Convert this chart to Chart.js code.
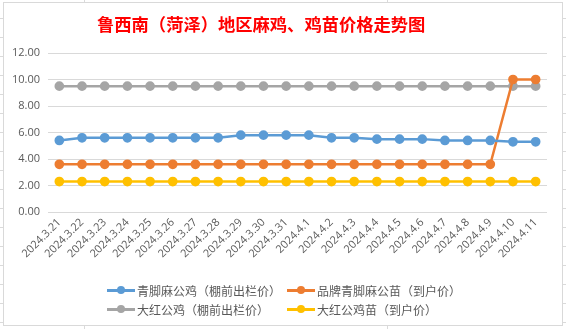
<!DOCTYPE html>
<html>
<head>
<meta charset="utf-8">
<script src="https://cdn.jsdelivr.net/npm/chart.js@4/dist/chart.umd.min.js"></script>
<style>
    html, body { margin: 0; padding: 0; }
    body {
        width: 566px; height: 329px; overflow: hidden; position: relative;
        background:
            linear-gradient(to right, transparent 84px, #dadada 84px, #dadada 85px, transparent 85px),
            linear-gradient(to right, transparent 387px, #dadada 387px, #dadada 388px, transparent 388px),
            repeating-linear-gradient(to bottom, transparent 0 18px, #dadada 18px 19px),
            #fff;
    }
    #box { position: absolute; left: 3px; top: 2px; width: 558px; height: 322px; border: 1px solid #d9d9d9; background: #fff; }
    #chart { position: absolute; left: 0; top: 0; }
    #title { position: absolute; left: 93px; top: 8px; font: bold 17.3px "Noto Sans CJK SC", sans-serif; color: #ff0000; white-space: nowrap; }
    #legend { position: absolute; left: 103px; top: 278px; font: 12px "Noto Sans CJK SC", sans-serif; color: #595959; }
    .item { position: absolute; display: flex; align-items: center; height: 18px; white-space: nowrap; }
    .sw { position: relative; width: 28px; height: 3px; margin-right: 2px; }
    .sw i { position: absolute; left: 10px; top: -2.5px; width: 8px; height: 8px; border-radius: 50%; }
</style>
</head>
<body>
<div id="box">
    <canvas id="chart" width="558" height="322"></canvas>
    <div id="title">鲁西南（菏泽）地区麻鸡、鸡苗价格走势图</div>
    <div id="legend"></div>
</div>
<script>
// --- DATA ---
const dates = ['2024.3.21', '2024.3.22', '2024.3.23', '2024.3.24', '2024.3.25', '2024.3.26', '2024.3.27', '2024.3.28', '2024.3.29', '2024.3.30', '2024.3.31',
    '2024.4.1', '2024.4.2', '2024.4.3', '2024.4.4', '2024.4.5', '2024.4.6', '2024.4.7', '2024.4.8', '2024.4.9', '2024.4.10', '2024.4.11'];
const qingjiaoRooster = [5.4, 5.6, 5.6, 5.6, 5.6, 5.6, 5.6, 5.6, 5.8, 5.8, 5.8, 5.8, 5.6, 5.6, 5.5, 5.5, 5.5, 5.4, 5.4, 5.4, 5.3, 5.3];
const brandChick = [3.6, 3.6, 3.6, 3.6, 3.6, 3.6, 3.6, 3.6, 3.6, 3.6, 3.6, 3.6, 3.6, 3.6, 3.6, 3.6, 3.6, 3.6, 3.6, 3.6, 10.0, 10.0];
const redRooster = [9.5, 9.5, 9.5, 9.5, 9.5, 9.5, 9.5, 9.5, 9.5, 9.5, 9.5, 9.5, 9.5, 9.5, 9.5, 9.5, 9.5, 9.5, 9.5, 9.5, 9.5, 9.5];
const redChick = [2.3, 2.3, 2.3, 2.3, 2.3, 2.3, 2.3, 2.3, 2.3, 2.3, 2.3, 2.3, 2.3, 2.3, 2.3, 2.3, 2.3, 2.3, 2.3, 2.3, 2.3, 2.3];
const seriesNames = ['青脚麻公鸡（棚前出栏价）', '品牌青脚麻公苗（到户价）', '大红公鸡（棚前出栏价）', '大红公鸡苗（到户价）'];
const yTicks = [0, 2, 4, 6, 8, 10, 12];

const colors = ['#5b9bd5', '#ed7d31', '#a5a5a5', '#ffc000'];
const lineSet = (label, data, c) => ({
    label, data, borderColor: c, backgroundColor: c, pointBackgroundColor: c, pointBorderColor: c,
    borderWidth: 2.5, pointRadius: 3.6, pointHoverRadius: 3.6, tension: 0, fill: false
});

const chart = new Chart(document.getElementById('chart'), {
    type: 'line',
    data: {
        labels: dates,
        datasets: [
            lineSet(seriesNames[0], qingjiaoRooster, colors[0]),
            lineSet(seriesNames[1], brandChick, colors[1]),
            lineSet(seriesNames[2], redRooster, colors[2]),
            lineSet(seriesNames[3], redChick, colors[3])
        ]
    },
    options: {
        responsive: false, animation: false, devicePixelRatio: 1,
        layout: { padding: { top: 50, right: 15, bottom: 0, left: 0 } },
        plugins: { legend: { display: false }, title: { display: false }, tooltip: { enabled: false } },
        scales: {
            x: {
                offset: true,
                grid: { display: false, drawTicks: false },
                border: { display: false },
                ticks: { color: '#595959', font: { family: 'Open Sans', size: 11 }, minRotation: 45, maxRotation: 45, autoSkip: false, padding: 4 },
                afterFit: s => { s.height = 113; }
            },
            y: {
                min: 0, max: 12,
                afterBuildTicks: s => { s.ticks = yTicks.map(v => ({ value: v })); },
                grid: { color: '#d9d9d9', lineWidth: 1, drawTicks: false },
                border: { display: false },
                ticks: { color: '#595959', font: { family: 'Open Sans', size: 11 }, padding: 8, callback: v => Number(v).toFixed(2) },
                afterFit: s => { s.width = 44; }
            }
        }
    }
});

// --- LEGEND (html, two aligned columns like the original) ---
const legendPos = [[0, 0], [180, 0], [0, 19], [180, 19]];
document.getElementById('legend').innerHTML = chart.data.datasets.map((d, i) =>
    `<div class="item" style="left:${legendPos[i][0]}px;top:${legendPos[i][1]}px"><span class="sw" style="background:${d.borderColor}"><i style="background:${d.borderColor}"></i></span>${d.label}</div>`
).join('');
</script>
</body>
</html>
